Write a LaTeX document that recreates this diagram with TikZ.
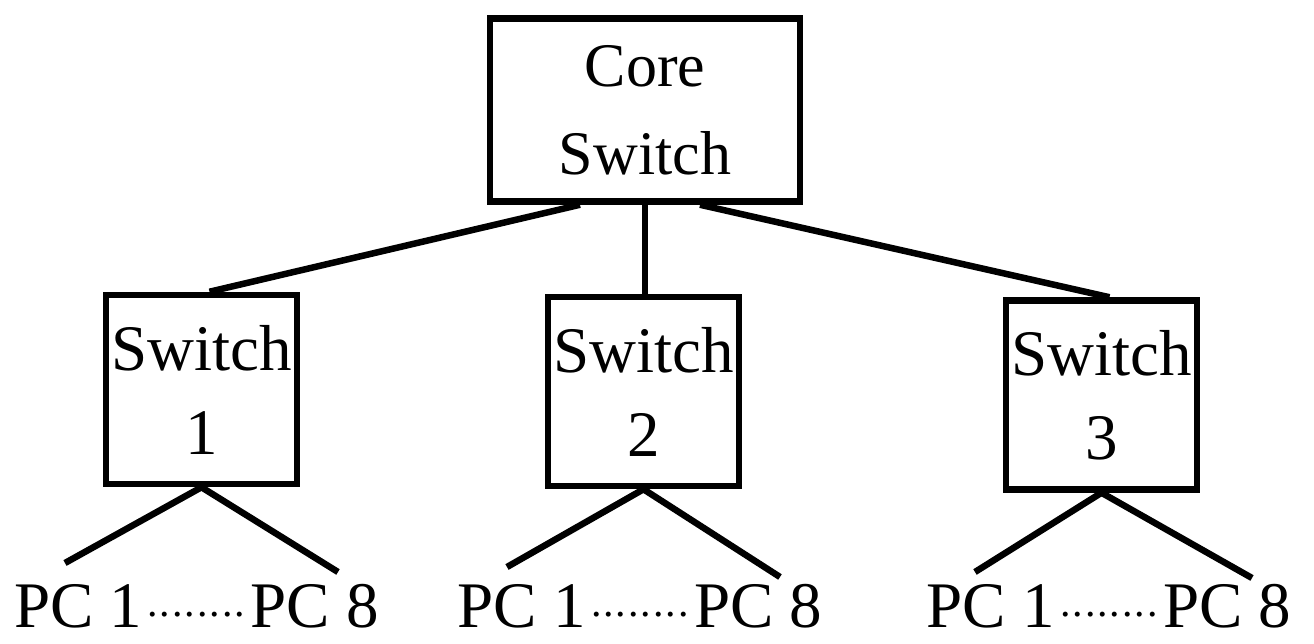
\documentclass[tikz,border=0pt]{standalone}
\usepackage{fontspec}
\setmainfont{Liberation Serif}
\newcommand{\pcdots}{\hspace{4pt}\hbox to 100pt{\xleaders\hbox to 12.5pt{\hss\raisebox{11pt}{\fontsize{42}{42}\selectfont .}\hss}\hfil}\hspace{4pt}}
\begin{document}
\begin{tikzpicture}[x=1pt,y=-1pt,
  box/.style={draw,line width=6.5pt,rectangle,inner sep=0pt,align=center,
    font=\fontsize{65}{84}\selectfont},
  wire/.style={line width=6.5pt},
  pclabel/.style={anchor=base,inner sep=0pt,font=\fontsize{65}{78}\selectfont}]
\useasboundingbox (0,0) rectangle (1314,644);
\node[box,minimum width=310pt,minimum height=183pt,font=\fontsize{62}{88}\selectfont] (core) at (645,110) {Core\\Switch};
\node[box,minimum width=191pt,minimum height=189pt] (s1) at (201.5,389.5) {Switch\\1};
\node[box,minimum width=191pt,minimum height=189pt] (s2) at (643.5,391.5) {Switch\\2};
\node[box,minimum width=191pt,minimum height=189pt] (s3) at (1101.5,395) {Switch\\3};
\draw[wire] ([xshift=-65pt]core.south) -- ([xshift=8pt]s1.north);
\draw[wire] (core.south) -- (core.south |- s2.north);
\draw[wire] ([xshift=55pt]core.south) -- ([xshift=8pt]s3.north);
\coordinate (a1) at (65,563);
\coordinate (b1) at (338,572);
\coordinate (a2) at (507,567);
\coordinate (b2) at (780,577);
\coordinate (a3) at (975,572);
\coordinate (b3) at (1252,578);
\draw[wire] (a1) -- (s1.south) -- (b1);
\draw[wire] (a2) -- (s2.south) -- (b2);
\draw[wire] (a3) -- (s3.south) -- (b3);
\node[pclabel] (p1) at (196.5,627) {PC 1\pcdots PC 8};
\node[pclabel] (p2) at (640,627) {PC 1\pcdots PC 8};
\node[pclabel] (p3) at (1109,627) {PC 1\pcdots PC 8};
\end{tikzpicture}
\end{document}
